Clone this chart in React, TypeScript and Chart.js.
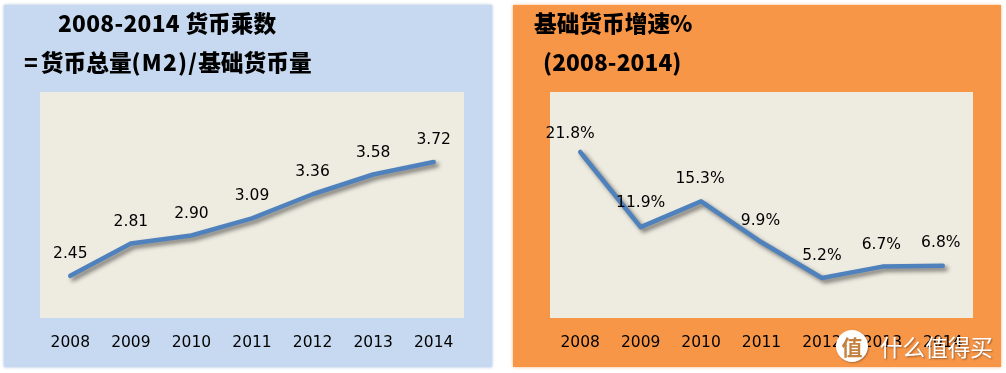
import React, { useEffect, useRef } from "react";
import { Chart, registerables } from "chart.js";

Chart.register(...registerables);

const years = ["2008", "2009", "2010", "2011", "2012", "2013", "2014"];
const multiplier = [2.45, 2.81, 2.9, 3.09, 3.36, 3.58, 3.72];
const growth = [21.8, 11.9, 15.3, 9.9, 5.2, 6.7, 6.8];
const multiplierLabels = ["2.45", "2.81", "2.90", "3.09", "3.36", "3.58", "3.72"];
const growthLabels = ["21.8%", "11.9%", "15.3%", "9.9%", "5.2%", "6.7%", "6.8%"];

const BODY_FONT = '"DejaVu Sans", sans-serif';
const TITLE_FONT = '"Noto Sans CJK SC", sans-serif';

function makeChart(
  canvas: HTMLCanvasElement,
  values: number[],
  labels: string[],
  yMin: number,
  yMax: number,
  padding: { left: number; right: number },
  labelShift: { x: number; y: number }[]
) {
  const decorate = {
    id: "decorate",
    beforeDraw(c: any) {
      const { ctx, chartArea: a } = c;
      ctx.save();
      ctx.fillStyle = "#EEECE1";
      ctx.fillRect(a.left, a.top, a.right - a.left, a.bottom - a.top);
      ctx.restore();
    },
    beforeDatasetDraw(c: any) {
      const { ctx } = c;
      ctx.save();
      ctx.shadowColor = "rgba(0,0,0,0.5)";
      ctx.shadowBlur = 4;
      ctx.shadowOffsetX = 3;
      ctx.shadowOffsetY = 3;
    },
    afterDatasetDraw(c: any) {
      c.ctx.restore();
    },
    afterDatasetsDraw(c: any) {
      const { ctx, scales } = c;
      ctx.save();
      ctx.font = `15.5px ${BODY_FONT}`;
      ctx.fillStyle = "#000";
      ctx.textAlign = "center";
      ctx.textBaseline = "middle";
      values.forEach((v, i) => {
        const x = scales.x.getPixelForValue(i) + labelShift[i].x;
        const y = scales.y.getPixelForValue(v) + labelShift[i].y;
        ctx.fillText(labels[i], x, y);
      });
      ctx.restore();
    },
  };

  return new Chart(canvas, {
    type: "line",
    data: {
      labels: years,
      datasets: [
        {
          data: values,
          borderColor: "#4F81BD",
          borderWidth: 4.5,
          borderCapStyle: "round",
          borderJoinStyle: "round",
          pointRadius: 0,
          tension: 0,
          fill: false,
        },
      ],
    },
    options: {
      animation: false,
      responsive: false,
      devicePixelRatio: 1,
      layout: { padding: { left: padding.left, right: padding.right, top: 87, bottom: 0 } },
      plugins: { legend: { display: false }, title: { display: false }, tooltip: { enabled: false } },
      scales: {
        x: {
          offset: true,
          grid: { display: false },
          border: { display: false },
          ticks: { color: "#000", font: { family: BODY_FONT, size: 15.5 }, padding: 8, maxRotation: 0, autoSkip: false },
          afterFit(scale: any) {
            scale.height = 49;
          },
        },
        y: { display: false, min: yMin, max: yMax },
      },
    },
    plugins: [decorate],
  } as any);
}

const panelBase: React.CSSProperties = {
  position: "absolute",
  top: 5,
  width: 488,
  height: 362,
};

const titleBase: React.CSSProperties = {
  position: "absolute",
  fontFamily: TITLE_FONT,
  fontWeight: 900,
  fontSize: 22.7,
  lineHeight: "30px",
  color: "#000",
  whiteSpace: "pre",
};

const multiplierShift = years.map(() => ({ x: 0, y: -22 }));
const growthShift = [
  { x: -10, y: -18 },
  { x: 0, y: -24 },
  { x: -1, y: -22 },
  { x: -1, y: -21 },
  { x: 0, y: -22 },
  { x: -1, y: -22 },
  { x: -2, y: -23 },
];

export default function App() {
  const leftRef = useRef<HTMLCanvasElement>(null);
  const rightRef = useRef<HTMLCanvasElement>(null);

  useEffect(() => {
    document.body.style.margin = "0";
    const a = makeChart(leftRef.current!, multiplier, multiplierLabels, 1.98, 4.5, { left: 36, right: 28 }, multiplierShift);
    const b = makeChart(rightRef.current!, growth, growthLabels, -0.07, 29.7, { left: 37, right: 28 }, growthShift);
    return () => {
      a.destroy();
      b.destroy();
    };
  }, []);

  return (
    <div style={{ position: "relative", width: 1006, height: 373, overflow: "hidden", background: "#fff" }}>
      <div style={{ ...panelBase, left: 4, background: "#C6D9F1", boxShadow: "0 0 3px rgba(150,175,210,0.8)" }}>
        <canvas ref={leftRef} width={488} height={362} style={{ display: "block" }} />
      </div>
      <div style={{ ...panelBase, left: 513, background: "#F89648", boxShadow: "0 0 3px rgba(249,151,74,0.7)" }}>
        <canvas ref={rightRef} width={488} height={362} style={{ display: "block" }} />
      </div>
      <div style={{ ...titleBase, left: 58, top: 8 }}>
        <span style={{ letterSpacing: 0.3 }}>2008-2014 </span>货币乘数
      </div>
      <div style={{ ...titleBase, left: 24, top: 47 }}>
        <span style={{ letterSpacing: 3 }}>=</span>货币总量<span style={{ letterSpacing: 1.2 }}>(M2)/</span>基础货币量
      </div>
      <div style={{ ...titleBase, left: 534, top: 8 }}>基础货币增速%</div>
      <div style={{ ...titleBase, left: 543, top: 47, letterSpacing: 0.1 }}>(2008-2014)</div>
      <div
        style={{
          position: "absolute",
          left: 836,
          top: 330,
          width: 32,
          height: 32,
          borderRadius: "50%",
          background: "#fff",
          color: "#C4803E",
          fontFamily: TITLE_FONT,
          fontWeight: 700,
          fontSize: 21,
          lineHeight: "32px",
          textAlign: "center",
          boxShadow: "1px 1px 2px rgba(0,0,0,0.3)",
        }}
      >
        值
      </div>
      <div
        style={{
          position: "absolute",
          left: 880,
          top: 331,
          fontFamily: TITLE_FONT,
          fontSize: 22.6,
          lineHeight: "32px",
          color: "#fff",
          whiteSpace: "pre",
          textShadow: "1px 1px 2px rgba(0,0,0,0.4)",
        }}
      >
        什么值得买
      </div>
    </div>
  );
}
